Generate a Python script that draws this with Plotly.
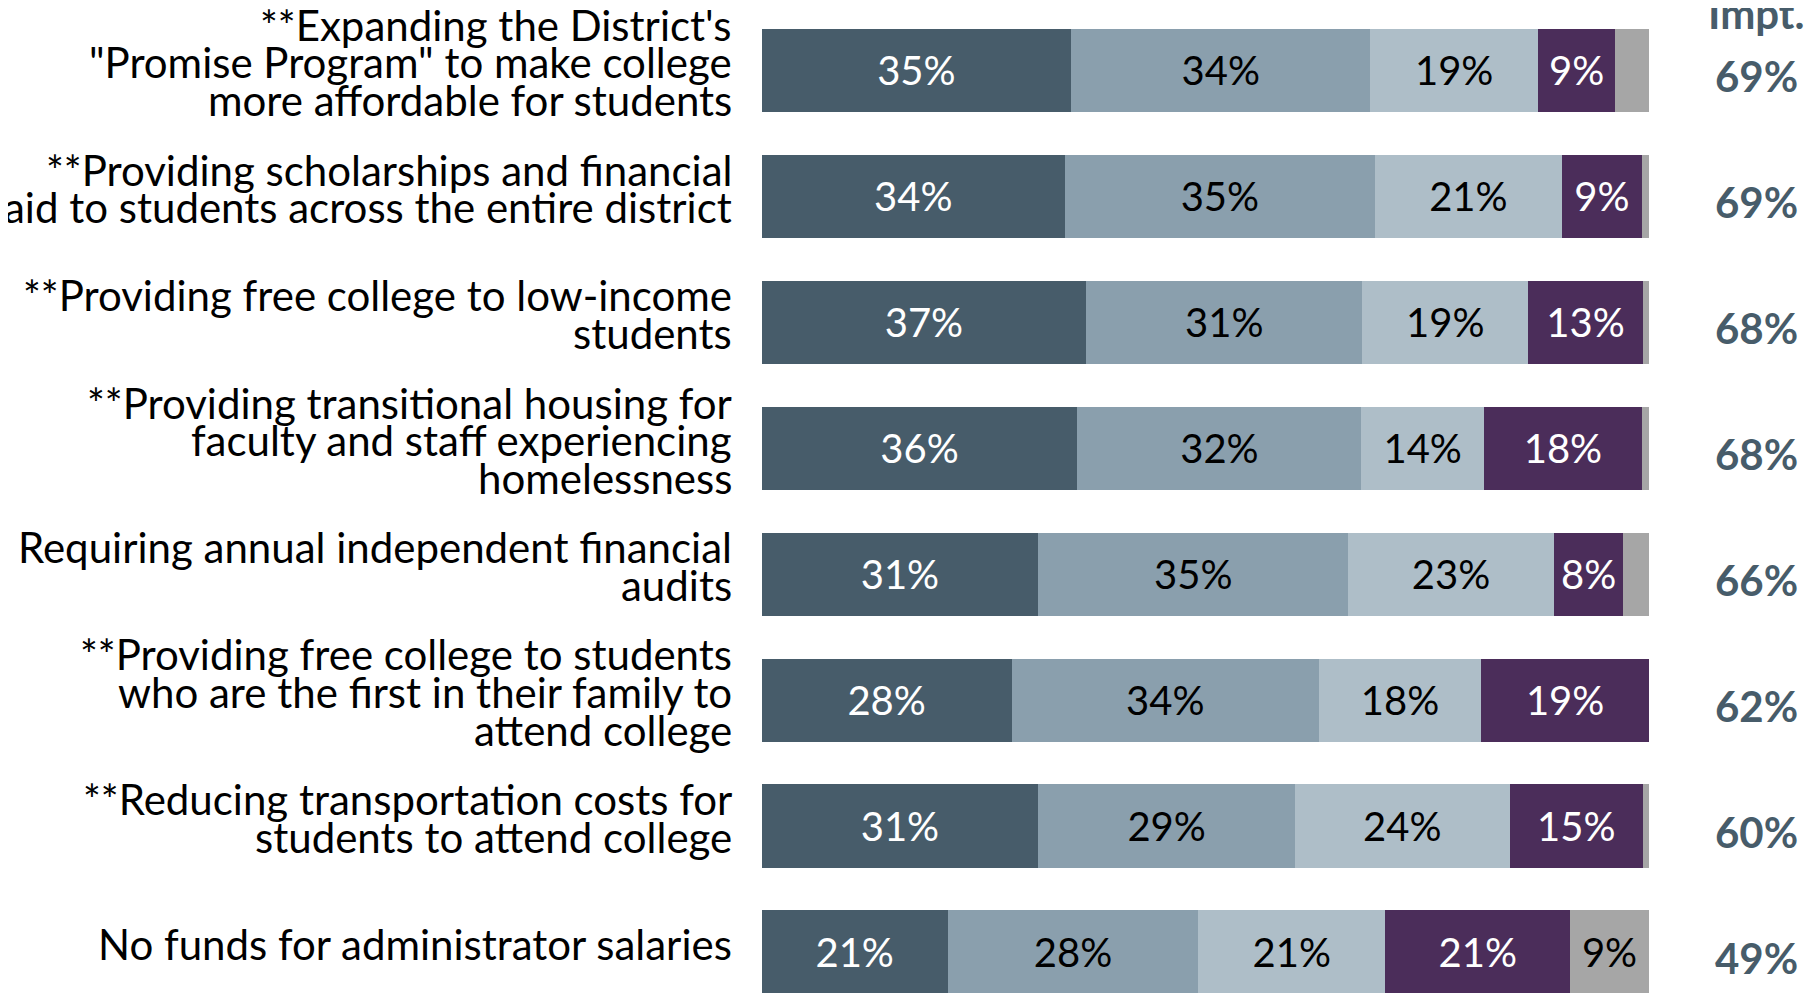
import plotly.graph_objects as go

# ==========================================================
# DATA
# ==========================================================

LABELS = [
    "**Expanding the District's<br>\"Promise Program\" to make college<br>more affordable for students",
    "**Providing scholarships and financial<br>aid to students across the entire district",
    "**Providing free college to low-income<br>students",
    "**Providing transitional housing for<br>faculty and staff experiencing<br>homelessness",
    "Requiring annual independent financial<br>audits",
    "**Providing free college to students<br>who are the first in their family to<br>attend college",
    "**Reducing transportation costs for<br>students to attend college",
    "No funds for administrator salaries",
]

SERIES_NAMES = ["Very important", "Somewhat important", "Not too important", "Not important", "Don't know"]

very_imp = [34.9, 34.2, 36.6, 35.6, 31.2, 28.2, 31.2, 21.0]
some_imp = [33.7, 34.9, 31.1, 32.0, 34.9, 34.6, 28.9, 28.2]
not_too = [18.9, 21.1, 18.7, 13.8, 23.2, 18.3, 24.2, 21.1]
not_imp = [8.7, 9.0, 12.9, 17.8, 7.8, 18.9, 15.0, 20.8]
dont_know = [3.8, 0.8, 0.8, 0.8, 2.9, 0.0, 0.8, 8.9]

very_imp_txt = ["35%", "34%", "37%", "36%", "31%", "28%", "31%", "21%"]
some_imp_txt = ["34%", "35%", "31%", "32%", "35%", "34%", "29%", "28%"]
not_too_txt = ["19%", "21%", "19%", "14%", "23%", "18%", "24%", "21%"]
not_imp_txt = ["9%", "9%", "13%", "18%", "8%", "19%", "15%", "21%"]
dont_know_txt = ["", "", "", "", "", "", "", "9%"]

TOTAL_IMPT = ["69%", "69%", "68%", "68%", "66%", "62%", "60%", "49%"]

COLORS = ["#475c6a", "#8a9fad", "#aebec8", "#4b2d5a", "#a6a6a6"]
TEXT_COLORS = ["white", "black", "black", "white", "black"]

FONT = "Lato"

# ==========================================================
# CHART
# ==========================================================

rows = list(range(len(LABELS)))

fig = go.Figure()

series = [
    (very_imp, very_imp_txt),
    (some_imp, some_imp_txt),
    (not_too, not_too_txt),
    (not_imp, not_imp_txt),
    (dont_know, dont_know_txt),
]

for i, (vals, txt) in enumerate(series):
    fig.add_trace(
        go.Bar(
            x=vals,
            y=rows,
            orientation="h",
            name=SERIES_NAMES[i],
            text=txt,
            textposition="inside",
            insidetextanchor="middle",
            textangle=0,
            constraintext="none",
            textfont=dict(family=FONT, size=40, color=TEXT_COLORS[i]),
            marker=dict(color=COLORS[i], line=dict(width=0)),
            width=0.66,
            hoverinfo="skip",
        )
    )

# row labels, one annotation per line so the tight line spacing can be kept
LINE_STEP = 37.6
for r, lab in zip(rows, LABELS):
    lines = lab.split("<br>")
    n = len(lines)
    for j, line in enumerate(lines):
        fig.add_annotation(
            x=726 / 1816,
            xref="paper",
            y=r,
            yref="y",
            text=line,
            showarrow=False,
            xanchor="right",
            yanchor="middle",
            yshift=-((j - (n - 1) / 2) * LINE_STEP) + 8,
            font=dict(family=FONT, size=42, color="black"),
        )

# total important column
for r, t in zip(rows, TOTAL_IMPT):
    fig.add_annotation(
        x=1748 / 1816,
        xref="paper",
        y=r,
        yref="y",
        text="<b>" + t + "</b>",
        showarrow=False,
        xanchor="center",
        yanchor="middle",
        yshift=-6,
        font=dict(family=FONT, size=42, color="#475c6a"),
    )

fig.add_annotation(
    x=1748 / 1816,
    xref="paper",
    y=1,
    yref="paper",
    text="<b>Impt.</b>",
    showarrow=False,
    xanchor="center",
    yanchor="middle",
    yshift=-5,
    font=dict(family=FONT, size=42, color="#475c6a"),
)

fig.update_layout(
    barmode="stack",
    width=1816,
    height=993,
    paper_bgcolor="white",
    plot_bgcolor="white",
    showlegend=False,
    margin=dict(l=0, r=0, t=0, b=0),
    uniformtext=dict(mode="show", minsize=10),
    xaxis=dict(
        domain=[753.5 / 1816, 1641 / 1816],
        range=[0, 100],
        visible=False,
        fixedrange=True,
    ),
    yaxis=dict(
        range=[7.39, -0.496],
        visible=False,
        fixedrange=True,
    ),
)

fig.write_html("out.html")
